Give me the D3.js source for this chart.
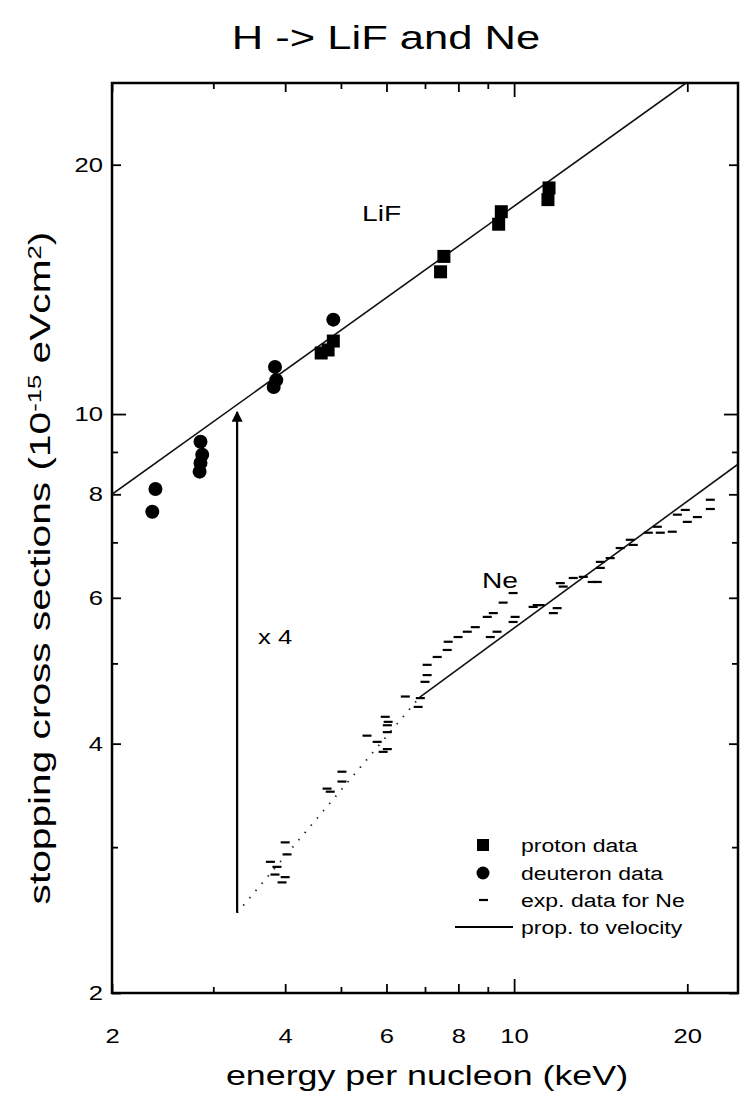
<!DOCTYPE html>
<html>
<head>
<meta charset="utf-8">
<script src="https://cdn.jsdelivr.net/npm/d3@7.9.0/dist/d3.min.js"></script>
<style>
  body { margin: 0; background: #fff; }
  svg { display: block; font-family: "Liberation Sans", Arial, sans-serif; }
</style>
</head>
<body>
<svg id="chart"></svg>
<script>
// axis ticks
const xTicks = [2, 3, 4, 5, 6, 7, 8, 9, 10, 20];
const xTickLabels = [2, 4, 6, 8, 10, 20];
const yTicks = [2, 3, 4, 5, 6, 7, 8, 9, 10, 20];
const yTickLabels = [2, 4, 6, 8, 10, 20];

// LiF proton data (energy keV/u, stopping cross section)
const protonE = [4.62, 4.75, 4.85, 7.45, 7.55, 9.4, 9.5, 11.45, 11.5];
const protonS = [11.85, 11.95, 12.25, 14.85, 15.5, 16.95, 17.55, 18.15, 18.75];

// LiF deuteron data
const deutE = [2.38, 2.35, 2.85, 2.87, 2.85, 2.84, 3.84, 3.82, 3.86, 4.85];
const deutS = [8.12, 7.62, 9.26, 8.93, 8.73, 8.52, 11.4, 10.78, 10.99, 13.0];

// Ne experimental data (x4)
const neE = [3.95, 4.00, 3.84, 3.87, 3.77, 4.03, 4.00,
  4.79, 4.73, 5.02, 5.02,
  5.55, 5.78, 5.92, 6.02, 6.04, 6.02, 5.97, 6.02,
  6.47, 6.87, 6.81,
  7.00, 7.06, 7.06, 7.35, 7.65, 7.68, 7.99, 8.29, 8.56, 8.98, 9.20, 9.57, 9.96,
  9.09, 9.34, 9.96, 10.04, 10.79, 11.10,
  10.97, 11.88, 11.70,
  12.03, 12.17, 12.67, 13.19, 13.67, 13.95,
  14.12, 14.69, 14.12,
  15.29, 15.92, 16.11,
  17.11, 17.74, 17.95, 18.83,
  19.22, 19.84, 20.0, 20.82,
  21.93, 21.93];
const neS = [2.72, 2.76, 2.78, 2.84, 2.88, 2.94, 3.04,
  3.50, 3.53, 3.60, 3.70,
  4.09, 4.02, 3.91, 3.94, 4.25, 4.13, 4.31, 4.21,
  4.56, 4.54, 4.43,
  4.75, 4.84, 4.98, 5.09, 5.19, 5.31, 5.38, 5.46, 5.53, 5.69, 5.75, 5.92, 6.08,
  5.38, 5.46, 5.61, 5.69, 5.85, 5.88,
  5.88, 5.83, 5.75,
  6.25, 6.19, 6.34, 6.36, 6.27, 6.27,
  6.63, 6.70, 6.52,
  6.89, 7.05, 6.95,
  7.19, 7.31, 7.19, 7.21,
  7.56, 7.66, 7.41, 7.51,
  7.88, 7.68];

// "prop. to velocity" lines (end points)
const lifLineE = [2, 19.9];
const lifLineS = [8.0, 25.1];
const neLineE = [6.85, 24.5];
const neLineS = [4.55, 8.7];
const neDotE = [3.3, 6.85];
const neDotS = [2.5, 4.55];

// x 4 arrow
const arrowE = 3.3;
const arrowS = [2.5, 10.06];

const legendText = ['proton data', 'deuteron data', 'exp. data for Ne', 'prop. to velocity'];

const width = 741;
const height = 1094;
const plot = { left: 112, right: 738, top: 83, bottom: 993 };
const stretch = 1.28; // the scanned figure is wider than tall

const svg = d3.select('#chart')
  .attr('width', width)
  .attr('height', height)
  .attr('viewBox', [0, 0, width, height]);

const x = d3.scaleLog().domain([2, 24.5]).range([plot.left, plot.right]);
const y = d3.scaleLog().domain([2, 25.1]).range([plot.bottom, plot.top]);

svg.append('defs').append('clipPath').attr('id', 'clip')
  .append('rect')
  .attr('x', plot.left).attr('y', plot.top)
  .attr('width', plot.right - plot.left).attr('height', plot.bottom - plot.top);

// horizontal text, widened like the scan
function hText(px, py, str, size, anchor = 'start') {
  return svg.append('text')
    .attr('transform', `translate(${px},${py}) scale(${stretch},1)`)
    .attr('text-anchor', anchor)
    .style('font-size', size + 'px')
    .text(str);
}

// tick length by value
function tickLen(v, labels) {
  if (v === 10) return 14;
  return labels.includes(v) ? 9 : 6;
}

function styleAxis(g) {
  g.select('.domain').remove();
  g.selectAll('line').attr('stroke', '#000').attr('stroke-width', 1.8);
  g.selectAll('text').attr('fill', '#000').style('font-size', '20px');
}

svg.append('g')
  .attr('transform', `translate(0,${plot.bottom})`)
  .call(d3.axisBottom(x).tickValues(xTicks).tickSizeInner(-6).tickSizeOuter(0).tickPadding(36)
    .tickFormat(d => xTickLabels.includes(d) ? d : ''))
  .call(styleAxis)
  .call(g => g.selectAll('.tick line').attr('y2', d => -tickLen(d, xTickLabels)))
  .call(g => g.selectAll('.tick text').attr('transform', `scale(${stretch},1)`));

svg.append('g')
  .attr('transform', `translate(0,${plot.top})`)
  .call(d3.axisTop(x).tickValues(xTicks).tickSizeOuter(0).tickFormat(''))
  .call(styleAxis)
  .call(g => g.selectAll('.tick line').attr('y2', d => tickLen(d, xTickLabels)));

svg.append('g')
  .attr('transform', `translate(${plot.left},0)`)
  .call(d3.axisLeft(y).tickValues(yTicks).tickSizeInner(-6).tickSizeOuter(0).tickPadding(9)
    .tickFormat(d => yTickLabels.includes(d) ? d : ''))
  .call(styleAxis)
  .call(g => g.selectAll('.tick line').attr('x2', d => tickLen(d, yTickLabels)))
  .call(g => g.selectAll('.tick text').attr('x', -9 / stretch).attr('transform', `scale(${stretch},1)`));

svg.append('g')
  .attr('transform', `translate(${plot.right},0)`)
  .call(d3.axisRight(y).tickValues(yTicks).tickSizeOuter(0).tickFormat(''))
  .call(styleAxis)
  .call(g => g.selectAll('.tick line').attr('x2', d => -tickLen(d, yTickLabels)));

// frame
svg.append('rect')
  .attr('x', plot.left).attr('y', plot.top)
  .attr('width', plot.right - plot.left).attr('height', plot.bottom - plot.top)
  .attr('fill', 'none').attr('stroke', '#000').attr('stroke-width', 2.5);

const line = d3.line().x(d => x(d[0])).y(d => y(d[1]));
const body = svg.append('g').attr('clip-path', 'url(#clip)');

body.append('path')
  .datum(d3.zip(lifLineE, lifLineS))
  .attr('d', line).attr('fill', 'none').attr('stroke', '#111').attr('stroke-width', 1.6);

body.append('path')
  .datum(d3.zip(neLineE, neLineS))
  .attr('d', line).attr('fill', 'none').attr('stroke', '#111').attr('stroke-width', 1.6);

body.append('path')
  .datum(d3.zip(neDotE, neDotS))
  .attr('d', line).attr('fill', 'none').attr('stroke', '#222').attr('stroke-width', 1.8)
  .attr('stroke-dasharray', '1.5 8');

// arrow
svg.append('defs').append('marker')
  .attr('id', 'head').attr('viewBox', '0 0 10 10')
  .attr('refX', 9).attr('refY', 5)
  .attr('markerWidth', 5).attr('markerHeight', 5)
  .attr('markerUnits', 'strokeWidth')
  .attr('orient', 'auto')
  .append('path').attr('d', 'M0,0L10,5L0,10z').attr('fill', '#000');

body.append('line')
  .attr('x1', x(arrowE)).attr('x2', x(arrowE))
  .attr('y1', y(arrowS[0])).attr('y2', y(arrowS[1]))
  .attr('stroke', '#000').attr('stroke-width', 2.2)
  .attr('marker-end', 'url(#head)');

// Ne dashes
body.selectAll('.ne')
  .data(d3.zip(neE, neS))
  .join('line')
  .attr('class', 'ne')
  .attr('x1', d => x(d[0]) - 4.5).attr('x2', d => x(d[0]) + 4.5)
  .attr('y1', d => y(d[1])).attr('y2', d => y(d[1]))
  .attr('stroke', '#000').attr('stroke-width', 2.2);

// deuterons
body.selectAll('.deut')
  .data(d3.zip(deutE, deutS))
  .join('circle')
  .attr('class', 'deut')
  .attr('cx', d => x(d[0])).attr('cy', d => y(d[1]))
  .attr('r', 7).attr('fill', '#000');

// protons
body.selectAll('.prot')
  .data(d3.zip(protonE, protonS))
  .join('rect')
  .attr('class', 'prot')
  .attr('x', d => x(d[0]) - 6.5).attr('y', d => y(d[1]) - 6.5)
  .attr('width', 13).attr('height', 13).attr('fill', '#000');

// labels in plot
hText(362, 221, 'LiF', 22);
hText(482, 588, 'Ne', 22);
hText(258, 644, 'x 4', 20);

// legend
const legendY = [845, 873, 900, 927];
svg.append('rect').attr('x', 477).attr('y', legendY[0] - 6).attr('width', 12).attr('height', 12);
svg.append('circle').attr('cx', 483).attr('cy', legendY[1]).attr('r', 6.5);
svg.append('line').attr('x1', 479).attr('x2', 488).attr('y1', legendY[2]).attr('y2', legendY[2])
  .attr('stroke', '#000').attr('stroke-width', 2.2);
svg.append('line').attr('x1', 455).attr('x2', 513).attr('y1', legendY[3]).attr('y2', legendY[3])
  .attr('stroke', '#000').attr('stroke-width', 2);
legendText.forEach((t, i) => hText(521, legendY[i] + 6.5, t, 18));

// titles
hText(386, 49, 'H -> LiF and Ne', 34, 'middle');
hText(427, 1085, 'energy per nucleon (keV)', 28, 'middle');

const yTitle = svg.append('text')
  .attr('text-anchor', 'middle')
  .style('font-size', '30px');
yTitle.append('tspan').text('stopping cross sections (10');
yTitle.append('tspan').attr('dy', -9).style('font-size', '19px').text('-15');
yTitle.append('tspan').attr('dy', 9).text(' eVcm');
yTitle.append('tspan').attr('dy', -9).style('font-size', '19px').text('2');
yTitle.append('tspan').attr('dy', 9).text(')');
// stretch the rotated title along its length to span 232..905
const titleLen = yTitle.node().getComputedTextLength();
yTitle.attr('transform', `translate(50,568) rotate(-90) scale(${673 / titleLen},1)`);
</script>
</body>
</html>
